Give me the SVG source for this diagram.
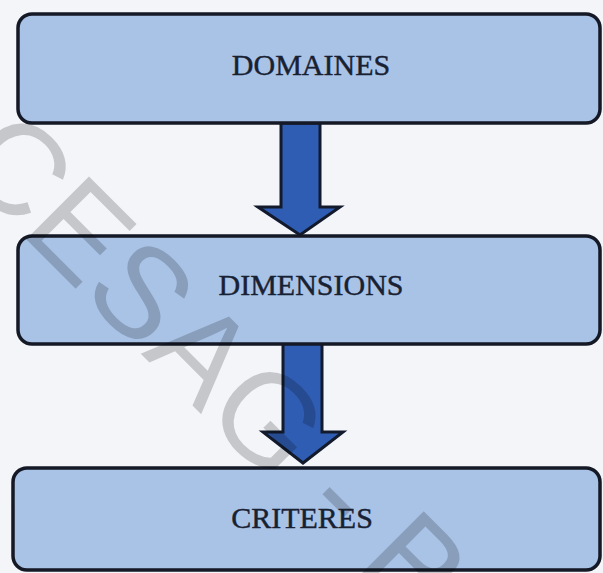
<svg xmlns="http://www.w3.org/2000/svg" width="603" height="573" viewBox="0 0 603 573">
<style>
.box{fill:#a9c3e7;stroke:#141925;stroke-width:3.5}
.lbl{font-family:"Liberation Serif","Times New Roman",serif;font-size:30px;fill:#182132;stroke:#182132;stroke-width:0.4;text-anchor:middle}
.arr{fill:#2f5db3;stroke:#121a2c;stroke-width:3;stroke-linejoin:miter}
.wm{font-family:"Liberation Sans",Arial,sans-serif;font-size:129px;fill:#000;fill-opacity:0.19}
</style>
<rect width="603" height="573" fill="#f3f5f9"/>
<g id="connectors">
<path class="arr" d="M281,123 L320,123 L320,207 L340,207 L300,235 L258,207 L281,207 Z"/>
<path class="arr" d="M283,343 L322,343 L322,432 L343,432 L303,463 L263,432 L283,432 Z"/>
</g>
<g id="domaines">
<rect class="box" x="18" y="14" width="582" height="109" rx="14"/>
<text class="lbl" x="311" y="75">DOMAINES</text>
</g>
<g id="dimensions">
<rect class="box" x="18" y="236" width="582" height="108" rx="14"/>
<text class="lbl" x="311" y="295">DIMENSIONS</text>
</g>
<g id="criteres">
<rect class="box" x="13" y="468" width="587" height="102" rx="14"/>
<text class="lbl" x="302" y="528">CRITERES</text>
</g>
<text class="wm" x="-47" y="166" transform="rotate(45 -47 166)">CESAG - B</text>
</svg>
